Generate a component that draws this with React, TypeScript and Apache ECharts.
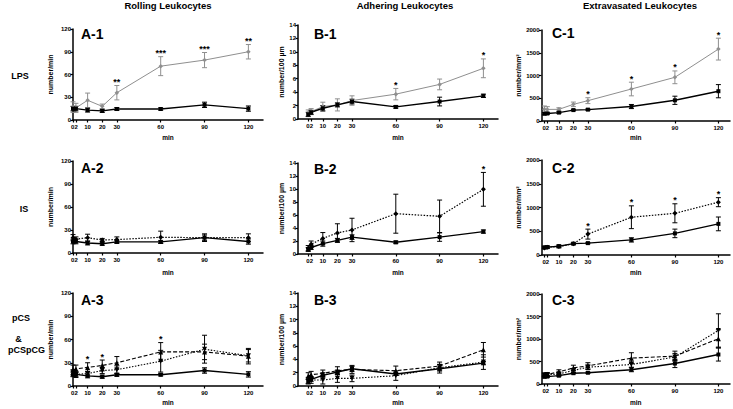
import React, { useEffect, useRef } from "react";
import * as echarts from "echarts";

const FONT = "Liberation Sans, Arial, Helvetica, sans-serif";

// time points (min)
const times = [0, 2, 10, 20, 30, 60, 90, 120];
const xTicks = [0, 2, 10, 20, 30, 60, 90, 120];
// the "0" and "2" labels run together as "02" in the original
const xLabelValues = [1, 10, 20, 30, 60, 90, 120];
const xLabelTexts = ["02", "10", "20", "30", "60", "90", "120"];
const xName = "min";

const colTitles = ["Rolling Leukocytes", "Adhering Leukocytes", "Extravasated Leukocytes"];
const yNames = ["number/min", "number/100 µm", "number/mm²"];
const panelLabels = [
  ["A-1", "B-1", "C-1"],
  ["A-2", "B-2", "C-2"],
  ["A-3", "B-3", "C-3"],
];

// Rolling leukocytes (number/min)
const rollCtrl = [15, 15, 13, 12, 14.5, 14.5, 20, 15];
const rollCtrlErr = [3, 3, 2.5, 2, 2, 1.5, 3.5, 3.5];
const rollLps = [17, 16, 26, 18, 36, 71, 79, 90];
const rollLpsErr = [7, 6, 9.5, 3, 9.5, 12.5, 10, 9.5];
const rollIs = [20, 18, 20, 17, 17.5, 20.5, 20, 20];
const rollIsErr = [4, 3, 4.5, 2, 3.5, 8, 5, 5];
const rollPcs = [21, 22, 24, 26.5, 30, 44, 44, 38.5];
const rollPcsErr = [6, 5, 6, 7, 8, 12, 10, 10];
const rollPcg = [17, 15, 16, 20, 21, 32, 47.5, 39];
const rollPcgErr = [4, 4, 3, 4, 5, 14, 18, 8];

// Adhering leukocytes (number/100 µm)
const adhCtrl = [0.7, 1.0, 1.6, 2.1, 2.6, 1.8, 2.6, 3.45];
const adhCtrlErr = [0.3, 0.3, 0.4, 0.3, 0.35, 0.2, 0.65, 0.25];
const adhLps = [0.85, 1.1, 1.85, 2.1, 2.75, 3.7, 5.15, 7.55];
const adhLpsErr = [0.5, 0.45, 0.65, 0.9, 0.7, 0.85, 0.8, 1.4];
const adhIs = [0.9, 1.5, 2.4, 3.25, 3.7, 6.2, 5.8, 9.95];
const adhIsErr = [0.4, 0.5, 0.9, 1.4, 1.8, 3.0, 2.5, 2.6];
const adhPcs = [1.5, 1.7, 1.9, 2.3, 2.5, 2.3, 3.0, 5.45];
const adhPcsErr = [0.5, 0.5, 0.5, 0.6, 0.6, 0.7, 0.6, 1.1];
const adhPcg = [0.8, 0.9, 0.9, 1.15, 1.15, 1.55, 2.75, 3.6];
const adhPcgErr = [0.5, 0.5, 0.6, 0.6, 0.5, 0.7, 0.5, 1.1];

// Extravasated leukocytes (number/mm²)
const extCtrl = [160, 165, 185, 240, 250, 318, 455, 655];
const extCtrlErr = [25, 20, 20, 15, 15, 45, 90, 145];
const extLps = [260, 255, 256, 366, 447, 703, 960, 1580];
const extLpsErr = [70, 60, 35, 50, 65, 150, 140, 240];
const extIs = [150, 165, 180, 235, 440, 795, 878, 1112];
const extIsErr = [20, 25, 30, 20, 105, 240, 200, 95];
const extPcs = [210, 215, 270, 358, 403, 575, 620, 1005];
const extPcsErr = [40, 40, 45, 60, 70, 120, 110, 200];
const extPcg = [190, 200, 225, 300, 373, 433, 600, 1190];
const extPcgErr = [30, 30, 35, 40, 50, 60, 80, 370];

// significance marks: [time, text]
const starsA1: [number, string][] = [[30, "**"], [60, "***"], [90, "***"], [120, "**"]];
const starsB1: [number, string][] = [[60, "*"], [120, "*"]];
const starsC1: [number, string][] = [[30, "*"], [60, "*"], [90, "*"], [120, "*"]];
const starsA2: [number, string][] = [];
const starsB2: [number, string][] = [[120, "*"]];
const starsC2: [number, string][] = [[30, "*"], [60, "*"], [90, "*"], [120, "*"]];
const starsA3: [number, string][] = [[10, "*"], [20, "*"], [60, "*"]];
const starsB3: [number, string][] = [];
const starsC3: [number, string][] = [];

type S = { values: number[]; err: number[]; kind: string };

const panelSeries: S[][][] = [
  [
    [{ values: rollLps, err: rollLpsErr, kind: "lps" }, { values: rollCtrl, err: rollCtrlErr, kind: "ctrl" }],
    [{ values: adhLps, err: adhLpsErr, kind: "lps" }, { values: adhCtrl, err: adhCtrlErr, kind: "ctrl" }],
    [{ values: extLps, err: extLpsErr, kind: "lps" }, { values: extCtrl, err: extCtrlErr, kind: "ctrl" }],
  ],
  [
    [{ values: rollIs, err: rollIsErr, kind: "is" }, { values: rollCtrl, err: rollCtrlErr, kind: "ctrl" }],
    [{ values: adhIs, err: adhIsErr, kind: "is" }, { values: adhCtrl, err: adhCtrlErr, kind: "ctrl" }],
    [{ values: extIs, err: extIsErr, kind: "is" }, { values: extCtrl, err: extCtrlErr, kind: "ctrl" }],
  ],
  [
    [
      { values: rollPcs, err: rollPcsErr, kind: "pcs" },
      { values: rollPcg, err: rollPcgErr, kind: "pcg" },
      { values: rollCtrl, err: rollCtrlErr, kind: "ctrl" },
    ],
    [
      { values: adhPcs, err: adhPcsErr, kind: "pcs" },
      { values: adhPcg, err: adhPcgErr, kind: "pcg" },
      { values: adhCtrl, err: adhCtrlErr, kind: "ctrl" },
    ],
    [
      { values: extPcs, err: extPcsErr, kind: "pcs" },
      { values: extPcg, err: extPcgErr, kind: "pcg" },
      { values: extCtrl, err: extCtrlErr, kind: "ctrl" },
    ],
  ],
];

const panelStars = [
  [starsA1, starsB1, starsC1],
  [starsA2, starsB2, starsC2],
  [starsA3, starsB3, starsC3],
];

// layout
const colCfg = [
  { yMax: 120, interval: 30, xMin: 0, xMax: 130, left: 73, width: 190, nameGap: 19, labelX: 81 },
  { yMax: 14, interval: 2, xMin: -7, xMax: 130, left: 298, width: 200, nameGap: 8.5, labelX: 314 },
  { yMax: 2000, interval: 500, xMin: -2, xMax: 128, left: 541.5, width: 188.5, nameGap: 20, labelX: 552 },
];
const rowBounds = [
  [[29, 120], [25, 119], [30, 121]],
  [[161, 253], [163, 254], [160, 255]],
  [[293, 386], [293, 386], [294, 384]],
];
const panelLabelY = [
  [33.5, 33.5, 32.5],
  [167.5, 169, 167.5],
  [300, 300, 300],
];
const xNameY = [137.5, 272.5, 402];

const styles: Record<string, any> = {
  ctrl: { color: "#000", type: "solid", width: 1.4, symbol: "rect", size: 4, rotate: 0 },
  lps: { color: "#8f8f8f", type: "solid", width: 1, symbol: "diamond", size: 4.5, rotate: 0 },
  is: { color: "#000", type: [1.5, 1.5], width: 1.2, symbol: "diamond", size: 5, rotate: 0 },
  pcs: { color: "#000", type: [4, 2], width: 1.1, symbol: "triangle", size: 5, rotate: 0 },
  pcg: { color: "#000", type: [1.5, 1.5], width: 1.1, symbol: "triangle", size: 5, rotate: 180 },
};

function buildOption() {
  const grids: any[] = [];
  const xAxes: any[] = [];
  const yAxes: any[] = [];
  const series: any[] = [];
  const graphics: any[] = [];
  const axisLine = { show: true, onZero: false, lineStyle: { color: "#000", width: 1.5 } };
  const tickStyle = { color: "#000", width: 1.2 };
  const lab = { fontSize: 6, fontWeight: "bold", color: "#000", fontFamily: FONT };

  for (let r = 0; r < 3; r++) {
    for (let c = 0; c < 3; c++) {
      const idx = r * 3 + c;
      const cfg = colCfg[c];
      const [top, bottom] = rowBounds[r][c];
      grids.push({ left: cfg.left, top, width: cfg.width, height: bottom - top, outerBoundsMode: "none", containLabel: false });
      xAxes.push({
        type: "value",
        gridIndex: idx,
        min: cfg.xMin,
        max: cfg.xMax,
        axisLine,
        axisTick: { show: true, customValues: xTicks, length: 2.5, lineStyle: tickStyle },
        axisLabel: {
          ...lab,
          customValues: xLabelValues,
          margin: 3.5,
          hideOverlap: false,
          formatter: (v: number) => {
            const i = xLabelValues.indexOf(v);
            return i >= 0 ? xLabelTexts[i] : "";
          },
        },
        splitLine: { show: false },
      });
      yAxes.push({
        type: "value",
        gridIndex: idx,
        min: 0,
        max: cfg.yMax,
        interval: cfg.interval,
        axisLine,
        axisTick: { show: true, length: 2.5, lineStyle: tickStyle },
        axisLabel: { ...lab, margin: 2, formatter: (v: number) => String(v) },
        splitLine: { show: false },
        name: yNames[c],
        nameLocation: "middle",
        nameGap: cfg.nameGap,
        nameTextStyle: { fontSize: 7, fontWeight: "bold", color: "#000000", fontFamily: FONT },
      });

      const sers = panelSeries[r][c];
      sers.forEach((s) => {
        const st = styles[s.kind];
        series.push({
          type: "custom",
          xAxisIndex: idx,
          yAxisIndex: idx,
          silent: true,
          data: times.map((t, i) => [t, s.values[i] - s.err[i], s.values[i] + s.err[i]]),
          encode: { x: 0, y: [1, 2] },
          renderItem: (params: any, api: any) => {
            const x = api.value(0);
            const lo = api.coord([x, api.value(1)]);
            const hi = api.coord([x, api.value(2)]);
            const cw = 2.5;
            const style = { stroke: st.color, lineWidth: 1 };
            return {
              type: "group",
              children: [
                { type: "line", shape: { x1: hi[0], y1: hi[1], x2: lo[0], y2: lo[1] }, style },
                { type: "line", shape: { x1: hi[0] - cw, y1: hi[1], x2: hi[0] + cw, y2: hi[1] }, style },
                { type: "line", shape: { x1: lo[0] - cw, y1: lo[1], x2: lo[0] + cw, y2: lo[1] }, style },
              ],
            };
          },
        });
      });
      sers.forEach((s) => {
        const st = styles[s.kind];
        series.push({
          type: "line",
          xAxisIndex: idx,
          yAxisIndex: idx,
          data: times.map((t, i) => [t, s.values[i]]),
          symbol: st.symbol,
          symbolSize: st.size,
          symbolRotate: st.rotate,
          showAllSymbol: true,
          itemStyle: { color: st.color },
          lineStyle: { color: st.color, width: st.width, type: st.type },
          silent: true,
        });
      });

      const stars = panelStars[r][c];
      if (stars.length) {
        const starData = stars.map(([t]) => {
          const i = times.indexOf(t);
          const topVal = Math.max(...sers.map((s) => s.values[i] + s.err[i]));
          return [t, topVal];
        });
        const texts = stars.map((s) => s[1]);
        series.push({
          type: "custom",
          xAxisIndex: idx,
          yAxisIndex: idx,
          silent: true,
          data: starData,
          renderItem: (params: any, api: any) => {
            const p = api.coord([api.value(0), api.value(1)]);
            return {
              type: "text",
              x: p[0],
              y: p[1] - 3.5,
              style: {
                text: texts[params.dataIndex],
                fontSize: 9,
                fontWeight: "bold",
                fontFamily: FONT,
                fill: "#000",
                align: "center",
                verticalAlign: "middle",
              },
            };
          },
        });
      }

      graphics.push({
        type: "text",
        x: cfg.labelX,
        y: panelLabelY[r][c],
        style: {
          text: panelLabels[r][c],
          fontSize: 14,
          fontWeight: "bold",
          fontFamily: FONT,
          fill: "#000",
          align: "left",
          verticalAlign: "middle",
        },
      });
      graphics.push({
        type: "text",
        x: cfg.left + cfg.width / 2,
        y: xNameY[r],
        style: {
          text: xName,
          fontSize: 6.5,
          fontWeight: "bold",
          fontFamily: FONT,
          fill: "#000",
          align: "center",
          verticalAlign: "middle",
        },
      });
    }
  }

  const titleX = [168, 405, 640];
  colTitles.forEach((t, i) => {
    graphics.push({
      type: "text",
      x: titleX[i],
      y: 5.5,
      style: { text: t, fontSize: 9.5, fontWeight: "bold", fontFamily: FONT, fill: "#000", align: "center", verticalAlign: "middle" },
    });
  });

  const rowLabels: [string, number, number][] = [
    ["LPS", 20, 76],
    ["IS", 24, 209],
    ["pCS", 21, 318],
    ["&", 18.5, 339],
    ["pCSpCG", 26.5, 350],
  ];
  rowLabels.forEach(([t, x, y]) => {
    graphics.push({
      type: "text",
      x,
      y,
      style: { text: t, fontSize: 9, fontWeight: "bold", fontFamily: FONT, fill: "#000", align: "center", verticalAlign: "middle" },
    });
  });

  return {
    animation: false,
    backgroundColor: "#fff",
    textStyle: { fontFamily: FONT },
    grid: grids,
    xAxis: xAxes,
    yAxis: yAxes,
    series,
    graphic: { elements: graphics },
  };
}

export default function App() {
  const ref = useRef<HTMLDivElement>(null);
  useEffect(() => {
    if (!ref.current) return;
    const chart = echarts.init(ref.current, null, { renderer: "svg" });
    chart.setOption(buildOption() as any);
    return () => chart.dispose();
  }, []);
  return (
    <div
      ref={ref}
      style={{ position: "fixed", left: 0, top: 0, width: 733, height: 409, background: "#fff" }}
    />
  );
}
